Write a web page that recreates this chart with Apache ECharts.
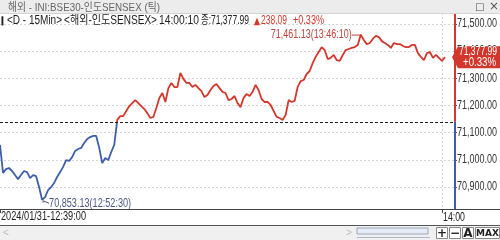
<!DOCTYPE html>
<html><head><meta charset="utf-8">
<script src="https://cdn.jsdelivr.net/npm/echarts@6/dist/echarts.min.js"></script>
<style>html,body{margin:0;padding:0;background:#fff;overflow:hidden}#c{width:500px;height:240px}</style>
</head><body><div id="c"></div><script>
const priceValues = [
71055,70952,70966,70970,70959,70944,70929,70944,70959,70955,
70933,70944,70940,70900,70853.13,70863,70889,70900,70915,70937,
70955,70974,70999,70996,71010,71033,71040,71044,71062,71077,
71084,71088,71088,71044,70988,71007,70999,71029,71055,71147,
71161,71161,71180,71198,71209,71220,71209,71198,71187,71172,
71154,71158,71191,71228,71246,71213,71264,71283,71268,71268,
71320,71298,71283,71283,71268,71276,71264,71253,71231,71239,
71257,71272,71279,71264,71250,71246,71220,71224,71235,71209,
71194,71228,71242,71235,71250,71276,71257,71224,71213,71213,
71202,71180,71158,71154,71147,71165,71220,71213,71217,71268,
71290,71294,71316,71327,71356,71379,71397,71415,71404,71371,
71375,71386,71367,71364,71386,71404,71408,71412,71415,71423,
71461.13,71441,71426,71430,71445,71456,71452,71437,71430,71423,
71412,71430,71426,71426,71419,71415,71415,71423,71423,71393,
71379,71367,71393,71397,71375,71386,71375,71364,71377.99
];
const slotCount = 152;
const timeTicks = {147: '14:00'};
const startLabel = '2024/01/31-12:39:00';
const yRange = [70800, 71600];
const yStep = 100;
const lastPrice = 71377.99;
const change = 238.09;
const changePct = 0.33;
const prevClose = 71139.90;
const extremeTimes = {min: '12:52:30', max: '13:46:10'};
const headerTitle = '해외 - INI:BSE30-인도SENSEX (틱)';
const headerParts = ['▮', '<D - 15Min>', '<해외-인도SENSEX>', '14:00:10', '종:'];

const FONT = '"Liberation Sans","Noto Sans CJK KR",sans-serif';
const RED = '#d3372b', BLUE = '#3d5ea8';
function fmt(v){ return v.toLocaleString('en-US',{minimumFractionDigits:2,maximumFractionDigits:2}); }

const categories = Array.from({length: slotCount}, (_, i) => timeTicks[i] || String(i));
const isTick = (i) => timeTicks[i] !== undefined;

const chart = echarts.init(document.getElementById('c'), null, {renderer:'canvas'});
const splitColors = [];
for (let v = yRange[0]; v <= yRange[1]; v += yStep) splitColors.push((v === yRange[0] || v === yRange[1]) ? 'rgba(0,0,0,0)' : '#d6d6d6');

chart.setOption({
  animation: false,
  backgroundColor: '#fff',
  textStyle: {fontFamily: FONT},
  grid: {left: 0, right: 46, top: -3.17, bottom: 25.8, containLabel: false, outerBoundsMode: 'none'},
  xAxis: {
    type: 'category', data: categories, boundaryGap: false,
    axisLine: {show: false}, axisTick: {show: false}, axisLabel: {show: false},
    splitLine: {show: true, interval: (i) => isTick(i), lineStyle: {color: '#cfcfcf', type: [2, 2], width: 1}}
  },
  yAxis: {
    type: 'value', position: 'right', min: yRange[0], max: yRange[1], interval: yStep,
    axisLine: {show: false},
    axisTick: {show: true, length: 3, lineStyle: {color: '#555'}},
    axisLabel: {show: false},
    splitLine: {show: true, lineStyle: {color: splitColors, type: [2, 2], width: 1}}
  },
  visualMap: {
    show: false, type: 'piecewise', dimension: 1, seriesIndex: 0,
    pieces: [
      {gt: yRange[0] - 10000, lt: prevClose, color: BLUE},
      {gte: prevClose, lte: yRange[1] + 10000, color: RED}
    ]
  },
  series: [{
    type: 'line', data: priceValues, showSymbol: false, symbol: 'none',
    lineStyle: {width: 1.8},
    markLine: {
      silent: true, symbol: ['none', 'none'], animation: false,
      label: {show: false},
      lineStyle: {color: '#222', type: [3, 2], width: 1},
      data: [{yAxis: prevClose}]
    }
  }]
});

// ---- overlays placed through the chart's own scales ----
const axisX = chart.convertToPixel({xAxisIndex: 0}, slotCount - 1);
const yPrev = chart.convertToPixel({yAxisIndex: 0}, prevClose);
const yLast = chart.convertToPixel({yAxisIndex: 0}, lastPrice);
const tickIdx = Number(Object.keys(timeTicks)[0]);
const tickX = chart.convertToPixel({xAxisIndex: 0}, tickIdx);
const W = chart.getWidth(), H = chart.getHeight();
const topBarH = 14, xAxisY = 209, bottomBarY = 225;

const mctx = document.createElement('canvas').getContext('2d');
function fitText(text, x0, x1, y, fill, opts) {
  opts = opts || {};
  const size = opts.fontSize || 12, weight = opts.fontWeight || 'normal', fam = opts.fontFamily || FONT;
  mctx.font = weight + ' ' + size + 'px ' + fam;
  const w = mctx.measureText(text).width || 1;
  return {type: 'text', z: opts.z || 101, silent: true, x: x0, y: y, scaleX: (x1 - x0) / w,
    style: {text, x: 0, y: 0, fill, fontSize: size, fontWeight: weight, fontFamily: fam, align: 'left', verticalAlign: 'middle'}};
}
function txt(text, x, y, opts) {
  return {type: 'text', z: 101, silent: true,
    style: Object.assign({text, x, y, fill: '#222', fontSize: 11, fontFamily: FONT, align: 'left', verticalAlign: 'middle'}, opts || {})};
}
function rect(x, y, w, h, fill, stroke) {
  return {type: 'rect', z: 100, silent: true, shape: {x, y, width: w, height: h},
    style: {fill, stroke: stroke || null, lineWidth: stroke ? 1 : 0}};
}
function line(x1, y1, x2, y2, color, w, z) {
  return {type: 'line', z: z || 102, silent: true, shape: {x1, y1, x2, y2}, style: {stroke: color, lineWidth: w || 1}};
}

const g = [];
// top title bar
g.push(rect(0, 0, W, topBarH, '#ececec'));
g.push(line(0, topBarH - 0.5, W, topBarH - 0.5, '#d4d4d4'));
g.push(fitText(headerTitle, 8, 160, 7.5, '#666', {fontSize: 11}));
g.push(txt('□', 475, 7, {fill: '#555', fontFamily: '"DejaVu Sans"', fontSize: 10}));
g.push(txt('×', 489, 7, {fill: '#555', fontFamily: '"DejaVu Sans"', fontSize: 12}));
// header info line
const partSpans = [[1, 4], [7, 62], [64, 157], [159, 199], [201, 211]];
headerParts.forEach((t, i) => g.push(fitText(t, partSpans[i][0], partSpans[i][1], 21, '#222')));
g.push(fitText(fmt(lastPrice), 211, 249, 21, '#222'));
g.push(fitText('▲', 254, 260, 21, RED, {fontFamily: '"DejaVu Sans"', fontSize: 10}));
g.push(fitText(change.toFixed(2), 261, 287, 21, RED));
g.push(fitText('+' + changePct.toFixed(2) + '%', 293, 324, 21, RED));
// y axis labels from the axis scale
for (let v = yRange[0]; v <= yRange[1]; v += yStep) {
  const py = chart.convertToPixel({yAxisIndex: 0}, v);
  if (py < topBarH + 4 || py > xAxisY - 4) continue;
  g.push(fitText(fmt(v), axisX + 3, axisX + 43, py, '#333', {z: 99}));
}
// min / max annotations
let iMin = 0, iMax = 0;
priceValues.forEach((v, i) => { if (v < priceValues[iMin]) iMin = i; if (v > priceValues[iMax]) iMax = i; });
const pMin = chart.convertToPixel({seriesIndex: 0}, [iMin, priceValues[iMin]]);
const pMax = chart.convertToPixel({seriesIndex: 0}, [iMax, priceValues[iMax]]);
const MINC = '#4a5680', MAXC = '#b8473b';
g.push(line(pMin[0] + 1, pMin[1] + 1, pMin[0] + 7, pMin[1] + 3.5, MINC, 1));
g.push(line(pMin[0] + 1, pMin[1] + 1, pMin[0] + 1, pMin[1] + 3, MINC, 1));
g.push(fitText(fmt(priceValues[iMin]) + '(' + extremeTimes.min + ')', pMin[0] + 7, pMin[0] + 89, pMin[1] + 4, MINC));
g.push(fitText(fmt(priceValues[iMax]) + '(' + extremeTimes.max + ')', pMax[0] - 90, pMax[0] - 9, pMax[1] + 0.5, MAXC));
g.push(line(pMax[0] - 9, pMax[1] + 0.5, pMax[0], pMax[1] + 0.5, MAXC, 1));
// bottom axis strip
g.push(rect(0, xAxisY, W, bottomBarY - xAxisY, '#fff'));
g.push(line(0, xAxisY + 0.5, W, xAxisY + 0.5, '#444'));
g.push(line(0.5, xAxisY, 0.5, xAxisY + 4, '#444'));
g.push(line(Math.round(tickX) + 0.5, xAxisY, Math.round(tickX) + 0.5, xAxisY + 4, '#444'));
g.push(fitText(startLabel, 1, 86, 217, '#222'));
g.push(fitText(timeTicks[tickIdx], Math.round(tickX) + 1, Math.round(tickX) + 23, 218, '#222'));
// bottom scroll bar
g.push(rect(0, bottomBarY, W, H - bottomBarY, '#f0f0f0'));
g.push(line(0, bottomBarY + 0.5, W, bottomBarY + 0.5, '#555'));
g.push(txt('<', 3, 233, {fill: '#bbb', fontSize: 10}));
g.push(txt('>', 346, 233, {fill: '#bbb', fontSize: 10}));
g.push(rect(357, 228, 71, 6, '#e6ecf5', '#9aa6b8'));
g.push(line(357, 237.5, 430, 237.5, '#b0b8c8'));
const btns = [['+', 436, 11], ['−', 449, 11], ['A', 462, 11], ['MAX', 475, 24]];
btns.forEach(([t, x, w]) => {
  g.push(rect(x + 0.5, 227.5, w, 11, '#fff', '#888'));
  g.push(txt(t, x + 0.5 + w / 2, 233.5, {align: 'center', fill: '#222', fontWeight: 'bold', fontSize: t === 'MAX' ? 9 : 12, fontFamily: '"DejaVu Sans"'}));
});
// right axis line split by previous close
g.push(line(axisX + 1, topBarH, axisX + 1, yPrev, RED, 2));
g.push(line(axisX + 1, yPrev, axisX + 1, xAxisY, BLUE, 2));
// last price box
g.push({type: 'polygon', z: 103, silent: true,
  shape: {points: [[axisX - 2, yLast], [axisX + 4, yLast - 11], [W, yLast - 11], [W, yLast + 11], [axisX + 4, yLast + 11]]},
  style: {fill: RED}});
g.push(fitText(fmt(lastPrice), axisX + 5, W - 3, yLast - 5, '#fff', {z: 104}));
g.push(fitText('+' + changePct.toFixed(2) + '%', axisX + 9, W - 4, yLast + 6, '#fff', {z: 104}));

chart.setOption({graphic: {elements: g}});
</script></body></html>
